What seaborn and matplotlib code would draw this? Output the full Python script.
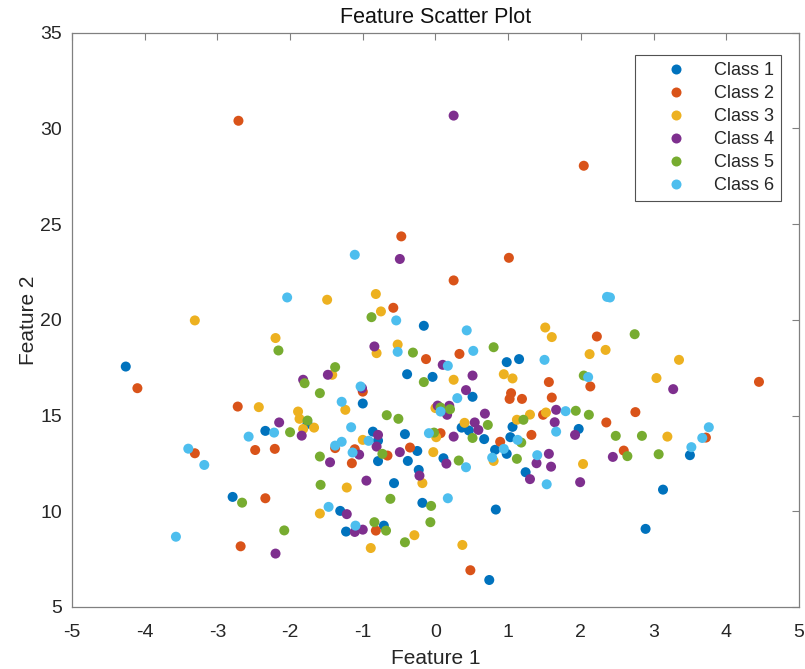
import pandas as pd
import matplotlib
matplotlib.use("Agg")
import matplotlib.pyplot as plt
import seaborn as sns

# Points, one pair of lists per class
c1_x = [-4.26, -1.76, -2.34, -2.79, -0.16, 0.98, 1.15, -0.39, -0.04, -1.00, 0.51, 0.36, 0.46,
        0.67, 1.06, 1.03, 0.82, 0.98, 1.24, -0.86, -0.79, -0.79, -0.42, -0.25, -0.38, 0.11,
        -0.23, -0.57, -0.18, 0.83, -1.31, -1.23, -0.71, 0.74, 1.97, 3.50, 3.13, 2.89]
c1_y = [17.56, 14.57, 14.20, 10.75, 19.69, 17.79, 17.95, 17.16, 17.02, 15.63, 15.98, 14.37, 14.22,
        13.77, 14.41, 13.87, 13.21, 13.00, 12.04, 14.16, 13.69, 12.62, 14.03, 13.15, 12.63, 12.77,
        12.16, 11.47, 10.44, 10.09, 10.02, 8.94, 9.25, 6.41, 14.30, 12.93, 11.13, 9.08]

c2_x = [-2.71, -0.47, 1.01, 0.25, -0.58, 2.04, -4.10, -2.72, -3.31, -2.48, -2.21, -2.34, -2.68,
        0.33, -0.13, 1.56, -1.00, 1.04, 1.02, 1.19, 1.60, 1.48, 1.32, 0.89, -0.66, 0.07, -0.35,
        -1.38, -1.11, -1.15, -0.82, 0.48, 2.22, 2.13, 4.45, 2.75, 2.35, 3.72, 2.59]
c2_y = [30.40, 24.36, 23.24, 22.06, 20.63, 28.05, 16.43, 15.47, 13.03, 13.20, 13.26, 10.68, 8.17,
        18.22, 17.95, 16.75, 16.25, 16.17, 15.87, 15.87, 15.94, 15.04, 13.99, 13.63, 12.91, 14.08, 13.33,
        13.30, 13.24, 12.51, 8.99, 6.92, 19.13, 16.52, 16.76, 15.18, 14.64, 13.85, 13.17]

c3_x = [-3.31, -0.82, -1.49, -0.75, 1.51, -2.20, -2.43, -1.89, -1.87, -1.82, -1.67, 1.60, -0.52,
        -0.81, 0.25, 0.94, 1.06, -1.42, -1.24, 0.00, 0.40, 1.12, 1.30, 1.52, 0.80, -1.00, 0.01,
        -0.03, -0.18, -1.22, -1.59, -0.89, -0.29, 0.37, 2.12, 2.34, 3.35, 3.04, 3.19, 2.03]
c3_y = [19.97, 21.35, 21.05, 20.44, 19.60, 19.05, 15.44, 15.21, 14.83, 14.30, 14.37, 19.10, 18.71,
        18.26, 16.87, 17.16, 16.94, 17.13, 15.30, 15.39, 14.62, 14.78, 15.05, 15.16, 12.63, 13.73, 13.87,
        13.09, 11.47, 11.24, 9.88, 8.08, 8.75, 8.24, 18.21, 18.43, 17.91, 16.96, 13.90, 12.47]

c4_x = [0.25, -0.49, -1.82, -2.15, -1.84, -2.20, -0.84, 0.10, 0.51, -1.48, -1.01, 0.42, 0.03,
        0.19, 0.16, 0.68, 0.54, 0.59, 0.25, 1.66, 1.64, 1.30, 1.56, 1.39, 1.59, -0.79, -0.81,
        -0.49, 0.15, -0.22, -1.05, -1.45, -0.95, -1.22, -1.11, -1.00, 3.27, 1.92, 2.44, 1.99]
c4_y = [30.67, 23.18, 16.87, 14.64, 13.95, 7.79, 18.61, 17.65, 17.09, 17.13, 16.43, 16.33, 15.52,
        15.51, 15.04, 15.10, 14.64, 14.25, 13.90, 15.30, 14.65, 11.68, 13.00, 12.51, 12.33, 13.99, 13.38,
        13.09, 12.49, 11.86, 12.96, 12.56, 11.60, 9.85, 8.92, 9.04, 16.38, 13.99, 12.84, 11.52]

c5_x = [-0.88, -2.16, -1.80, -1.59, -1.76, -2.00, -1.59, -1.58, -2.66, -2.08, 0.80, -0.31, -0.16,
        -1.38, 0.07, 0.20, -0.67, -0.51, 0.72, 0.51, 1.21, 1.18, 1.12, -0.73, -0.02, 0.32, -0.62,
        -0.06, -0.84, -0.68, -0.07, -0.42, 2.74, 2.04, 1.93, 2.11, 2.48, 2.84, 2.64, 3.07]
c5_y = [20.14, 18.40, 16.69, 16.17, 14.74, 14.13, 12.86, 11.38, 10.45, 9.00, 18.57, 18.29, 16.75,
        17.53, 15.42, 15.33, 15.02, 14.83, 14.51, 13.83, 14.78, 13.59, 12.74, 13.00, 14.11, 12.65, 10.65,
        10.28, 9.43, 8.99, 9.43, 8.38, 19.25, 17.09, 15.25, 15.04, 13.94, 13.94, 12.88, 12.98]

c6_x = [-2.04, -1.11, -0.54, 0.43, 2.36, 2.40, -2.22, -2.57, -3.40, -3.18, -3.57, 0.52, -0.52,
        0.17, 1.50, -1.03, -1.29, 0.30, 0.07, -1.16, 1.66, 1.13, 0.94, 0.78, 1.40, 1.53, -0.92,
        -0.09, 0.42, -1.38, -1.29, -1.14, 0.17, -1.47, -1.10, 2.10, 1.79, 3.76, 3.67, 3.52]
c6_y = [21.17, 23.40, 19.97, 19.45, 21.20, 21.17, 14.11, 13.90, 13.27, 12.42, 8.67, 18.38, 18.33,
        17.60, 17.91, 16.52, 15.72, 15.91, 15.21, 14.39, 14.16, 13.73, 13.26, 12.80, 12.93, 11.41, 13.68,
        14.08, 12.30, 13.43, 13.63, 13.07, 10.68, 10.23, 9.25, 17.01, 15.23, 14.39, 13.83, 13.35]

class_names = ["Class 1", "Class 2", "Class 3", "Class 4", "Class 5", "Class 6"]
colors = ["#0072BD", "#D95319", "#EDB120", "#7E2F8E", "#77AC30", "#4DBEEE"]

xs = [c1_x, c2_x, c3_x, c4_x, c5_x, c6_x]
ys = [c1_y, c2_y, c3_y, c4_y, c5_y, c6_y]
frames = []
for name, x, y in zip(class_names, xs, ys):
    frames.append(pd.DataFrame({"Feature 1": x, "Feature 2": y, "Class": name}))
df = pd.concat(frames, ignore_index=True)

sns.set_style("white")
plt.rcParams["font.family"] = ["Liberation Sans", "DejaVu Sans"]
plt.rcParams["axes.unicode_minus"] = False

fig = plt.figure(figsize=(8.05, 6.69), dpi=100)
ax = fig.add_axes([0.0894, 0.0927, 0.9031, 0.8584])

sns.scatterplot(data=df, x="Feature 1", y="Feature 2", hue="Class",
                hue_order=class_names, palette=colors, s=52, linewidth=0,
                ax=ax, legend=True)

ax.set_xlim(-5, 5)
ax.set_ylim(5, 35)
ax.set_xticks(range(-5, 6))
ax.set_yticks(range(5, 36, 5))
ax.tick_params(direction="in", top=True, right=True, length=5, width=0.8,
               color="#808080", labelsize=14, labelcolor="#262626")
ax.tick_params(axis="x", pad=12)
ax.tick_params(axis="y", pad=7)
for sp in ax.spines.values():
    sp.set_color("#808080")
    sp.set_linewidth(0.9)

ax.set_title("Feature Scatter Plot", fontsize=15.5, color="#111111", pad=7)
ax.set_xlabel("Feature 1", fontsize=15, color="#262626", labelpad=6)
ax.set_ylabel("Feature 2", fontsize=15, color="#262626", labelpad=2)

leg = ax.legend(loc="upper right", bbox_to_anchor=(0.9752, 0.9605), borderaxespad=0,
                fontsize=13, frameon=True, fancybox=False, handletextpad=0.25,
                borderpad=0.39, labelspacing=0.33, handlelength=3.73, markerscale=1.0)
leg.get_frame().set_edgecolor("#262626")
leg.get_frame().set_linewidth(0.8)

plt.savefig("out.png", dpi=100)
plt.close()
